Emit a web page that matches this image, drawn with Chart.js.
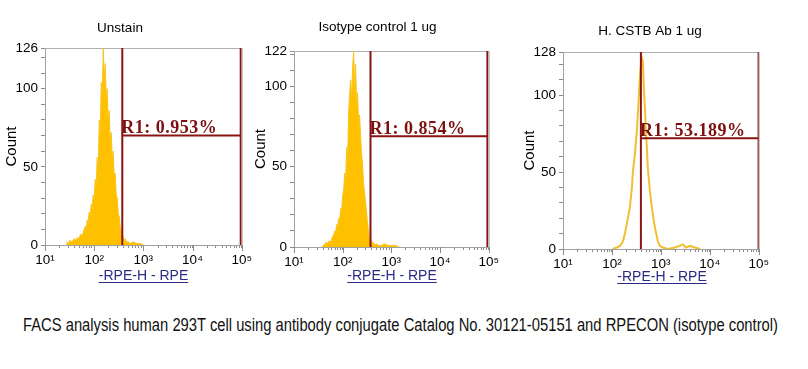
<!DOCTYPE html>
<html>
<head>
<meta charset="utf-8">
<script src="https://cdn.jsdelivr.net/npm/chart.js@4.4.0/dist/chart.umd.min.js"></script>
<style>
  body { margin: 0; background: #fff; width: 808px; height: 369px; position: relative; overflow: hidden; }
  canvas { position: absolute; top: 0; }
  #caption {
    position: absolute; left: 23px; top: 317px; white-space: nowrap; transform-origin: 0 0;
    font-family: 'Liberation Sans Narrow', 'Arial Narrow', 'Liberation Sans', Arial, sans-serif;
    font-size: 17.5px; line-height: 17px; color: #111;
  }
</style>
</head>
<body>
<div id="caption">FACS analysis human 293T cell using antibody conjugate Catalog No. 30121-05151 and RPECON (isotype control)</div>
<script>
// Panel text
const panelTitles = ['Unstain', 'Isotype control 1 ug', 'H. CSTB Ab 1 ug'];
const xAxisLabel = '-RPE-H - RPE';
const yAxisLabel = 'Count';

// Axis ticks
const xTickValues = [10, 100, 1000, 10000, 100000];
const xTickLabels = ['10\u00b9', '10\u00b2', '10\u00b3', '10\u2074', '10\u2075'];
const yMax = [126, 122, 128];

// Histograms: fluorescence (RPE-H) and event count
const unstainFL = [27, 28, 30, 32, 35, 37, 40, 43, 46, 49, 53, 57, 61, 66, 69, 72, 75, 79, 83, 87,
  91, 95, 100, 105, 110, 115, 121, 127, 133, 139, 146, 153, 160, 168, 176, 184, 193, 202, 212, 222,
  233, 244, 256, 268, 281, 295, 309, 324, 339, 356, 373, 391, 410, 430, 450, 494, 543, 625, 719, 869, 1000];
const unstainCount = [0, 2, 1, 3, 2, 3, 4, 3, 5, 4, 7, 6, 9, 12, 10, 16, 14, 21, 19, 26,
  23, 32, 29, 42, 37, 56, 50, 80, 70, 104, 96, 126, 108, 116, 94, 100, 80, 86, 66, 72,
  56, 60, 44, 46, 32, 30, 20, 18, 11, 9, 6, 5, 3, 4, 2, 2, 1, 2, 1, 1, 0];

const isotypeFL = [37, 40, 43, 46, 49, 53, 57, 61, 66, 69, 72, 75, 79, 83, 87, 91, 95, 100, 105, 110,
  115, 121, 127, 133, 139, 146, 153, 160, 168, 176, 184, 193, 202, 212, 222, 233, 244, 256, 268, 281,
  295, 309, 324, 339, 356, 373, 391, 410, 430, 450, 494, 543, 625, 719, 869, 1000, 1200, 1450];
const isotypeCount = [0, 1, 2, 3, 2, 4, 3, 6, 8, 10, 9, 14, 13, 18, 17, 24, 22, 32, 36, 46,
  42, 62, 58, 84, 96, 104, 92, 112, 122, 100, 114, 90, 96, 78, 82, 70, 58, 52, 40, 34,
  28, 22, 15, 10, 6, 3, 4, 2, 3, 1, 2, 1, 1, 2, 1, 1, 1, 0];

const cstbFL = [105, 126, 146, 168, 184, 212, 233, 256, 268, 295, 324, 356, 373, 391, 410, 429, 450, 472, 494, 518,
  543, 596, 655, 720, 790, 869, 954, 1100, 1390, 1940, 2440, 2810, 3240, 3930, 4990, 6340];
const cstbCount = [0, 1, 2, 5, 10, 20, 27, 40, 50, 62, 77, 100, 112, 120, 124, 122, 104, 92, 77, 66,
  52, 38, 27, 18, 11, 5, 2, 1, 0, 1, 2, 3, 1, 2, 1, 0];

// R1 gates
const gateLow = [373, 373, 391];
const gateHigh = [95500, 94000, 99500];
const gateCount = [70, 69, 72];
const gatePct = ['0.953', '0.854', '53.189'];

// Page placement of each plot area and its texts
const boxes = [
  { left: 45, top: 48, right: 242, bottom: 245, titleX: 120, titleY: 28, labelX: 143.5, labelY: 276 },
  { left: 294, top: 51, right: 489, bottom: 247, titleX: 377.5, titleY: 27, labelX: 392, labelY: 276 },
  { left: 563, top: 52, right: 759, bottom: 249, titleX: 650, titleY: 31, labelX: 662, labelY: 277 }
];
const series = [
  { fl: unstainFL, count: unstainCount, filled: true },
  { fl: isotypeFL, count: isotypeCount, filled: true },
  { fl: cstbFL, count: cstbCount, filled: false }
];

const GATE_COLOR = '#8a1414';
const SANS = "'Liberation Sans', Arial, sans-serif";

Chart.defaults.font.family = SANS;
Chart.defaults.color = '#000';

// frame, long decade ticks, gate label, title and underlined x label
const panelText = {
  id: 'panelText',
  beforeDatasetsDraw(chart) {
    const { ctx, chartArea: a, scales } = chart;
    ctx.save();
    ctx.strokeStyle = '#b0b0b0';
    ctx.lineWidth = 1;
    ctx.beginPath();
    ctx.moveTo(a.left, a.top + 0.5);
    ctx.lineTo(a.right + 0.5, a.top + 0.5);
    ctx.lineTo(a.right + 0.5, a.bottom);
    ctx.stroke();
    ctx.strokeStyle = '#8c8c8c';
    ctx.beginPath();
    xTickValues.forEach(v => {
      const px = Math.round(scales.x.getPixelForValue(v)) + 0.5;
      ctx.moveTo(px, a.bottom);
      ctx.lineTo(px, a.bottom + 6);
    });
    ctx.stroke();
    ctx.restore();
  },
  afterDatasetsDraw(chart, args, o) {
    const { ctx, scales } = chart;
    const x = scales.x.getPixelForValue(o.gateLow);
    const y = scales.y.getPixelForValue(o.gateCount);
    ctx.save();
    ctx.font = "bold 18px 'Liberation Serif', 'Times New Roman', serif";
    ctx.letterSpacing = '0.5px';
    ctx.fillStyle = '#7d1010';
    ctx.textBaseline = 'alphabetic';
    ctx.fillText('R1: ' + o.pct + '%', x - 1, y - 2.5);
    ctx.restore();
  },
  afterDraw(chart, args, o) {
    const ctx = chart.ctx;
    ctx.save();
    ctx.textAlign = 'center';
    ctx.textBaseline = 'middle';
    ctx.font = '13.5px ' + SANS;
    ctx.fillStyle = '#000';
    ctx.fillText(o.title, o.titleX, o.titleY);
    ctx.font = '14px ' + SANS;
    ctx.fillStyle = '#2b2b86';
    ctx.fillText(xAxisLabel, o.labelX, o.labelY);
    const w = ctx.measureText(xAxisLabel).width;
    ctx.fillRect(o.labelX - w / 2, o.labelY + 6, w, 1);
    ctx.restore();
  }
};

const H = 290;
const PAD_R = 14;

boxes.forEach((b, i) => {
  const canvasLeft = b.left - 45;
  const canvas = document.createElement('canvas');
  canvas.width = b.right - canvasLeft + PAD_R;
  canvas.height = H;
  canvas.style.left = canvasLeft + 'px';
  document.body.appendChild(canvas);

  const s = series[i];
  const max = yMax[i];
  const yTicks = [];
  for (let v = 0; v < max; v += 10) yTicks.push(v);
  yTicks.push(max);
  const yLabels = [0, 50, 100, max];

  const gateStyle = { borderColor: GATE_COLOR, borderWidth: 2, pointRadius: 0, fill: false, order: 0 };

  new Chart(canvas, {
    type: 'line',
    data: {
      datasets: [
        { ...gateStyle, data: [{ x: gateLow[i], y: 0 }, { x: gateLow[i], y: max }] },
        { ...gateStyle, data: [{ x: gateHigh[i], y: 0 }, { x: gateHigh[i], y: max }] },
        { ...gateStyle, data: [{ x: gateLow[i], y: gateCount[i] }, { x: gateHigh[i], y: gateCount[i] }] },
        {
          data: s.fl.map((v, k) => ({ x: v, y: s.count[k] })),
          borderColor: s.filled ? '#f7c520' : '#f0c030',
          backgroundColor: '#ffc000',
          borderWidth: s.filled ? 1 : 2,
          fill: s.filled ? 'origin' : false,
          pointRadius: 0,
          tension: 0,
          order: 1
        }
      ]
    },
    options: {
      responsive: false,
      animation: false,
      layout: { padding: { top: b.top, bottom: H - 20 - b.bottom, left: 0, right: PAD_R } },
      plugins: {
        legend: { display: false },
        tooltip: { enabled: false },
        panelText: {
          title: panelTitles[i],
          titleX: b.titleX - canvasLeft, titleY: b.titleY,
          labelX: b.labelX - canvasLeft, labelY: b.labelY,
          gateLow: gateLow[i], gateCount: gateCount[i], pct: gatePct[i]
        }
      },
      scales: {
        x: {
          type: 'logarithmic',
          min: xTickValues[0],
          max: xTickValues[xTickValues.length - 1],
          afterFit: (sc) => { sc.height = 20; },
          afterBuildTicks: (sc) => {
            const t = [];
            xTickValues.slice(0, -1).forEach(d => { for (let m = 1; m < 10; m++) t.push({ value: m * d }); });
            t.push({ value: xTickValues[xTickValues.length - 1] });
            sc.ticks = t;
          },
          ticks: {
            autoSkip: false, maxRotation: 0, padding: 4,
            font: { size: 13.5 },
            callback: (v) => {
              const k = xTickValues.indexOf(v);
              return k >= 0 ? xTickLabels[k] : '';
            }
          },
          grid: { drawOnChartArea: false, tickLength: 3, color: '#8c8c8c' },
          border: { color: '#a0a0a0' }
        },
        y: {
          min: 0,
          max: max,
          afterFit: (sc) => { sc.width = 45; },
          afterBuildTicks: (sc) => { sc.ticks = yTicks.map(v => ({ value: v })); },
          ticks: {
            autoSkip: false, padding: 3,
            font: { size: 13.5 },
            callback: (v) => (yLabels.includes(v) ? String(v) : '')
          },
          grid: { drawOnChartArea: false, tickLength: 4, color: '#8c8c8c' },
          border: { color: '#a0a0a0' },
          title: { display: true, text: yAxisLabel, font: { size: 15 }, padding: { top: 3, bottom: 0 } }
        }
      }
    },
    plugins: [panelText]
  });
});

// squeeze the caption to the reference width
const cap = document.getElementById('caption');
const capW = cap.getBoundingClientRect().width;
cap.style.transform = 'scaleX(' + (755 / capW) + ')';
</script>
</body>
</html>
